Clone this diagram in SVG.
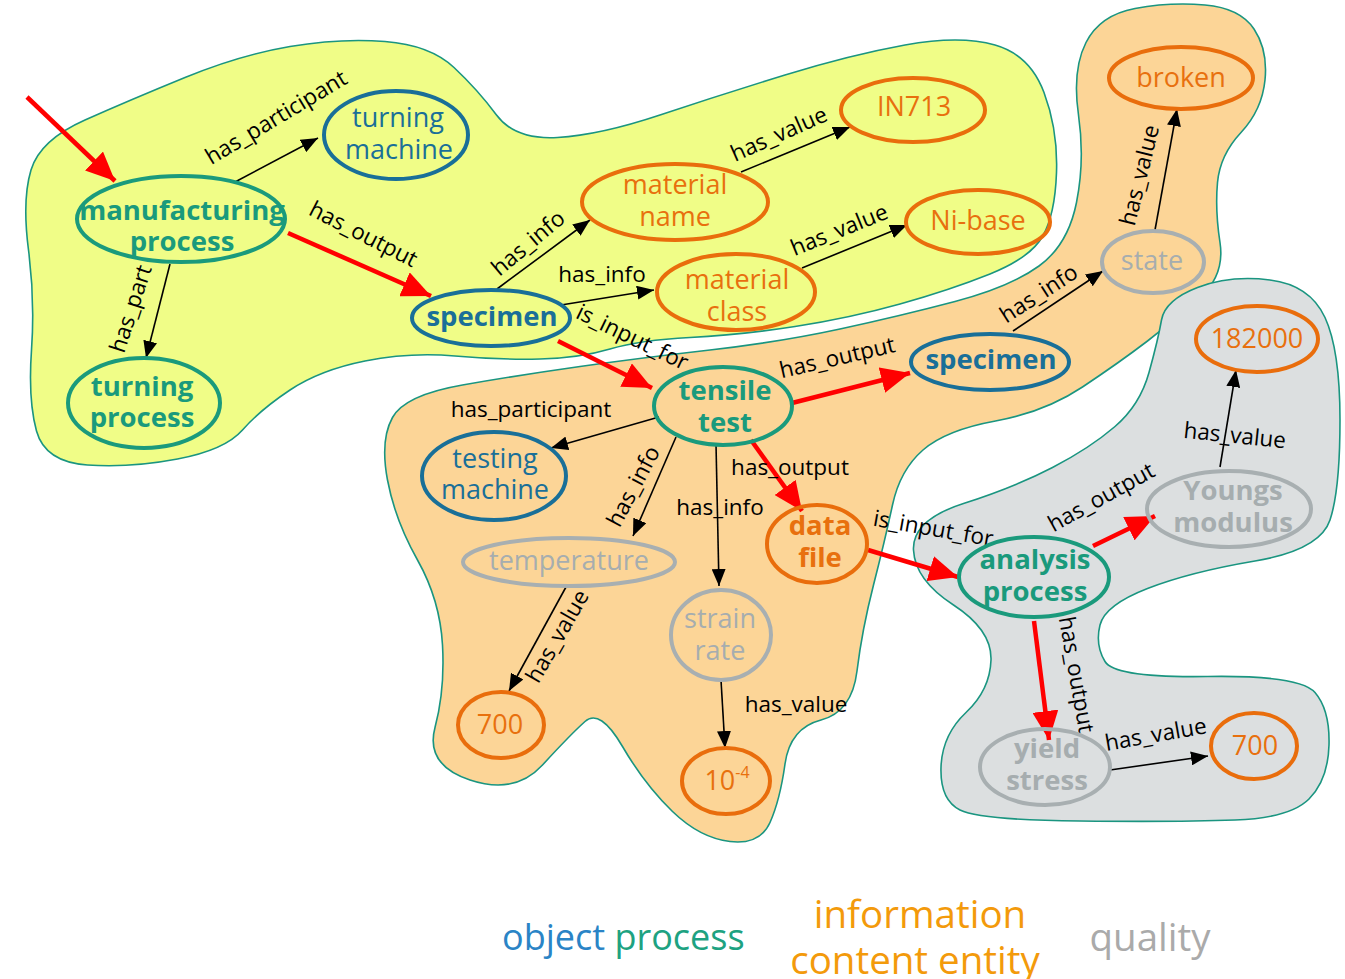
<svg xmlns="http://www.w3.org/2000/svg" width="1345" height="979" viewBox="0 0 1345 979">
  <style>
    text { font-family: "Open Sans", "Noto Sans", "Liberation Sans", sans-serif; }
    .blob { stroke: #1a9580; stroke-width: 1.6; }
    .n { fill: none; stroke-width: 4; }
    .obj { stroke: #196f98; }
    .proc { stroke: #1a9a7c; }
    .ice { stroke: #e96d0c; }
    .qual { stroke: #a8afb1; }
    .t { font-size: 27px; text-anchor: middle; }
    .tb { font-size: 27.5px; text-anchor: middle; font-weight: bold; }
    .c-obj { fill: #1a6f98; }
    .c-proc { fill: #1a9a7c; }
    .c-ice { fill: #e8700e; }
    .c-qual { fill: #a6adaf; }
    .e { stroke: #000; stroke-width: 1.6; fill: none; marker-end: url(#ah); }
    .r { stroke: #ff0000; stroke-width: 4.5; fill: none; marker-end: url(#rh); }
    .lbl { font-size: 22.5px; fill: #000; text-anchor: middle; }
    .lg { font-size: 36px; }
    .lg2 { font-size: 38.5px; text-anchor: middle; }
  </style>
  <defs>
    <marker id="ah" markerUnits="userSpaceOnUse" markerWidth="18" markerHeight="14" refX="17" refY="7" orient="auto">
      <path d="M0,0 L17,7 L0,14 z" fill="#000"/>
    </marker>
    <marker id="rh" markerUnits="userSpaceOnUse" markerWidth="30" markerHeight="26" refX="29" refY="13" orient="auto">
      <path d="M0,0 L29,13 L0,26 z" fill="#ff0000"/>
    </marker>
  </defs>

  <!-- background regions -->
  <g id="regions">
    <path class="blob" fill="#f0fd87" d="M28.5,250 Q22,200 31,170 Q40,140 85,120 Q130,100 185,77.5 Q240,55 290,46.5 Q340,38 385,41.5 Q430,45 454,67.5 Q478,90 496.5,115 Q515,140 557.5,137.5 Q600,135 660,115 Q720,95 785,75 Q850,55 905,45 Q960,35 995,45 Q1030,55 1044,92.5 Q1058,130 1056.5,172.5 Q1055,215 1042.5,236.5 Q1030,258 990,274 Q950,290 900,304 Q850,318 795,326.5 Q740,335 690,337.5 Q640,340 610,349 Q580,358 540,359 Q500,360 455,356 Q410,352 365,361 Q320,370 290,390 Q260,410 242.5,430 Q225,450 177.5,459 Q130,468 87.5,465 Q45,462 36.5,431 Q28,400 31.5,350 Q35,300 28.5,250 Z"/>
    <path class="blob" fill="#fcd597" d="M1086,42.5 Q1100,15 1135,8.5 Q1170,2 1205,5 Q1240,8 1254,29 Q1268,50 1265,80 Q1262,110 1241,132.5 Q1220,155 1217.5,182.5 Q1215,210 1220,242.5 Q1225,275 1200,297.5 Q1175,320 1147.5,341 Q1120,362 1082.5,387 Q1045,412 995.5,421 Q946,430 923,450 Q900,470 892.5,505 Q885,540 873.5,585 Q862,630 857,671 Q852,712 821,720 Q790,728 785,764 Q780,800 770,822.5 Q760,845 730,841.5 Q700,838 672.5,811.5 Q645,785 622.5,746.5 Q600,708 585,721.5 Q570,735 542.5,765 Q515,795 470,780 Q425,765 435,727.5 Q445,690 442.5,645 Q440,600 417.5,560 Q395,520 387.5,480 Q380,440 392.5,417.5 Q405,395 462.5,385 Q520,375 580,366.5 Q640,358 710,350 Q780,342 840,329 Q900,316 955,301.5 Q1010,287 1039,266 Q1068,245 1076.5,202.5 Q1085,160 1078.5,115 Q1072,70 1086,42.5 Z"/>
    <path class="blob" fill="#dcdfe0" d="M1161.5,320 Q1165,300 1197.5,287.5 Q1230,275 1270,280 Q1310,285 1325,317.5 Q1340,350 1340,420 Q1340,490 1330,520 Q1320,550 1255,561 Q1190,572 1147.5,588.5 Q1105,605 1100,625 Q1095,645 1105,661.5 Q1115,678 1207.5,676.5 Q1300,675 1315,692.5 Q1330,710 1329,745 Q1328,780 1309,799 Q1290,818 1235,820 Q1180,822 1080,821 Q980,820 960,810 Q940,800 941,767.5 Q942,735 966,712.5 Q990,690 991,660 Q992,630 953.5,605 Q915,580 913.5,550 Q912,520 963.5,503.5 Q1015,487 1052.5,467.5 Q1090,448 1115,426.5 Q1140,405 1149,372.5 Q1158,340 1161.5,320 Z"/>
  </g>

  <!-- relations -->
  <g id="connectors">
    <line class="r" x1="27" y1="97" x2="115" y2="181"/>
    <line class="r" x1="288" y1="233" x2="431" y2="296"/>
    <line class="r" x1="558" y1="341" x2="652" y2="388"/>
    <line class="r" x1="792" y1="403" x2="910" y2="373"/>
    <line class="r" x1="751" y1="440" x2="802" y2="511"/>
    <line class="r" x1="868" y1="550" x2="958" y2="577"/>
    <line class="r" x1="1093" y1="546" x2="1155" y2="516"/>
    <line class="r" x1="1034" y1="621" x2="1049" y2="740"/>

    <line class="e" x1="235" y1="182" x2="318" y2="138"/>
    <line class="e" x1="170" y1="264" x2="146" y2="358"/>
    <line class="e" x1="497" y1="289" x2="590" y2="220"/>
    <line class="e" x1="561" y1="305" x2="654" y2="290"/>
    <line class="e" x1="741" y1="172" x2="850" y2="127"/>
    <line class="e" x1="802" y1="268" x2="907" y2="225"/>
    <line class="e" x1="1155" y1="230" x2="1177" y2="109"/>
    <line class="e" x1="1013" y1="331" x2="1103" y2="271"/>
    <line class="e" x1="659" y1="417" x2="551" y2="448"/>
    <line class="e" x1="676" y1="437" x2="633" y2="536"/>
    <line class="e" x1="716" y1="444" x2="719" y2="586"/>
    <line class="e" x1="566" y1="587" x2="509" y2="691"/>
    <line class="e" x1="721" y1="680" x2="725" y2="748"/>
    <line class="e" x1="1220" y1="467" x2="1236" y2="370"/>
    <line class="e" x1="1110" y1="770" x2="1208" y2="756"/>

    <text class="lbl" transform="translate(280,124) rotate(-31)">has_participant</text>
    <text class="lbl" transform="translate(138,311) rotate(-72)">has_part</text>
    <text class="lbl" transform="translate(360,241) rotate(27)">has_output</text>
    <text class="lbl" transform="translate(533,249) rotate(-40)">has_info</text>
    <text class="lbl" transform="translate(602,282)">has_info</text>
    <text class="lbl" transform="translate(782,141) rotate(-24)">has_value</text>
    <text class="lbl" transform="translate(842,237) rotate(-22)">has_value</text>
    <text class="lbl" transform="translate(629,344) rotate(26)">is_input_for</text>
    <text class="lbl" transform="translate(1147,177) rotate(-76)">has_value</text>
    <text class="lbl" transform="translate(1043,300) rotate(-33)">has_info</text>
    <text class="lbl" transform="translate(839,365) rotate(-13)">has_output</text>
    <text class="lbl" transform="translate(531,417)">has_participant</text>
    <text class="lbl" transform="translate(640,490) rotate(-62)">has_info</text>
    <text class="lbl" transform="translate(790,475)">has_output</text>
    <text class="lbl" transform="translate(720,515)">has_info</text>
    <text class="lbl" transform="translate(564,640) rotate(-60)">has_value</text>
    <text class="lbl" transform="translate(796,712)">has_value</text>
    <text class="lbl" transform="translate(932,536) rotate(10)">is_input_for</text>
    <text class="lbl" transform="translate(1105,504) rotate(-29)">has_output</text>
    <text class="lbl" transform="translate(1234,443) rotate(6)">has_value</text>
    <text class="lbl" transform="translate(1069,676) rotate(80)">has_output</text>
    <text class="lbl" transform="translate(1157,742) rotate(-10)">has_value</text>
  </g>

  <!-- entities -->
  <g id="manufacturing-process">
    <ellipse class="n proc" cx="181" cy="219" rx="104" ry="43"/>
    <text class="tb c-proc" x="182" y="220">manufacturing</text>
    <text class="tb c-proc" x="182" y="251">process</text>
  </g>
  <g id="turning-machine">
    <ellipse class="n obj" cx="396" cy="135" rx="72" ry="44"/>
    <text class="t c-obj" x="398" y="127">turning</text>
    <text class="t c-obj" x="399" y="159">machine</text>
  </g>
  <g id="turning-process">
    <ellipse class="n proc" cx="144" cy="403" rx="76" ry="45"/>
    <text class="tb c-proc" x="142" y="396">turning</text>
    <text class="tb c-proc" x="142" y="427">process</text>
  </g>
  <g id="specimen-1">
    <ellipse class="n obj" cx="491" cy="318" rx="79" ry="28"/>
    <text class="tb c-obj" x="492" y="326">specimen</text>
  </g>
  <g id="material-name">
    <ellipse class="n ice" cx="675" cy="202" rx="93" ry="38"/>
    <text class="t c-ice" x="675" y="194">material</text>
    <text class="t c-ice" x="675" y="226">name</text>
  </g>
  <g id="material-class">
    <ellipse class="n ice" cx="736" cy="292" rx="79" ry="38"/>
    <text class="t c-ice" x="737" y="289">material</text>
    <text class="t c-ice" x="737" y="321">class</text>
  </g>
  <g id="in713">
    <ellipse class="n ice" cx="913" cy="110" rx="72" ry="32"/>
    <text class="t c-ice" x="914" y="116">IN713</text>
  </g>
  <g id="ni-base">
    <ellipse class="n ice" cx="978" cy="222" rx="72" ry="32"/>
    <text class="t c-ice" x="978" y="230">Ni-base</text>
  </g>
  <g id="broken">
    <ellipse class="n ice" cx="1181" cy="78" rx="72" ry="31"/>
    <text class="t c-ice" x="1181" y="87">broken</text>
  </g>
  <g id="state">
    <ellipse class="n qual" cx="1153" cy="262" rx="51" ry="31"/>
    <text class="t c-qual" x="1152" y="270">state</text>
  </g>
  <g id="specimen-2">
    <ellipse class="n obj" cx="990" cy="362" rx="79" ry="28"/>
    <text class="tb c-obj" x="991" y="369">specimen</text>
  </g>
  <g id="tensile-test">
    <ellipse class="n proc" cx="723" cy="406" rx="69" ry="39"/>
    <text class="tb c-proc" x="725" y="400">tensile</text>
    <text class="tb c-proc" x="725" y="432">test</text>
  </g>
  <g id="testing-machine">
    <ellipse class="n obj" cx="494" cy="476" rx="72" ry="44"/>
    <text class="t c-obj" x="495" y="468">testing</text>
    <text class="t c-obj" x="495" y="499">machine</text>
  </g>
  <g id="temperature">
    <ellipse class="n qual" cx="569" cy="562" rx="106" ry="24"/>
    <text class="t c-qual" x="569" y="570">temperature</text>
  </g>
  <g id="data-file">
    <ellipse class="n ice" cx="817" cy="544" rx="50" ry="39"/>
    <text class="tb c-ice" x="820" y="535">data</text>
    <text class="tb c-ice" x="820" y="567">file</text>
  </g>
  <g id="strain-rate">
    <ellipse class="n qual" cx="721" cy="635" rx="50" ry="45"/>
    <text class="t c-qual" x="720" y="628">strain</text>
    <text class="t c-qual" x="720" y="660">rate</text>
  </g>
  <g id="value-700-temperature">
    <ellipse class="n ice" cx="501" cy="725" rx="43" ry="33"/>
    <text class="t c-ice" x="500" y="734">700</text>
  </g>
  <g id="value-strain-rate">
    <ellipse class="n ice" cx="726" cy="781" rx="44" ry="33"/>
    <text class="t c-ice" x="727" y="790">10<tspan font-size="16" dy="-12">-4</tspan></text>
  </g>
  <g id="analysis-process">
    <ellipse class="n proc" cx="1034" cy="577" rx="75" ry="40"/>
    <text class="tb c-proc" x="1035" y="569">analysis</text>
    <text class="tb c-proc" x="1035" y="601">process</text>
  </g>
  <g id="youngs-modulus">
    <ellipse class="n qual" cx="1229" cy="509" rx="82" ry="38"/>
    <text class="tb c-qual" x="1233" y="500">Youngs</text>
    <text class="tb c-qual" x="1233" y="532">modulus</text>
  </g>
  <g id="value-182000">
    <ellipse class="n ice" cx="1257" cy="339" rx="61" ry="33"/>
    <text class="t c-ice" x="1257" y="348">182000</text>
  </g>
  <g id="yield-stress">
    <ellipse class="n qual" cx="1045" cy="767" rx="65" ry="38"/>
    <text class="tb c-qual" x="1047" y="758">yield</text>
    <text class="tb c-qual" x="1047" y="790">stress</text>
  </g>
  <g id="value-700-yield">
    <ellipse class="n ice" cx="1254" cy="746" rx="43" ry="33"/>
    <text class="t c-ice" x="1255" y="755">700</text>
  </g>

  <!-- legend -->
  <g id="legend">
    <text class="lg" x="502" y="950"><tspan fill="#2a84c6">object</tspan> <tspan fill="#1ea281">process</tspan></text>
    <text class="lg2" x="920" y="928" fill="#f39a0b">information</text>
    <text class="lg2" x="915" y="974" fill="#f39a0b">content entity</text>
    <text class="lg2" x="1150" y="951" fill="#aaaaaa">quality</text>
  </g>
</svg>
